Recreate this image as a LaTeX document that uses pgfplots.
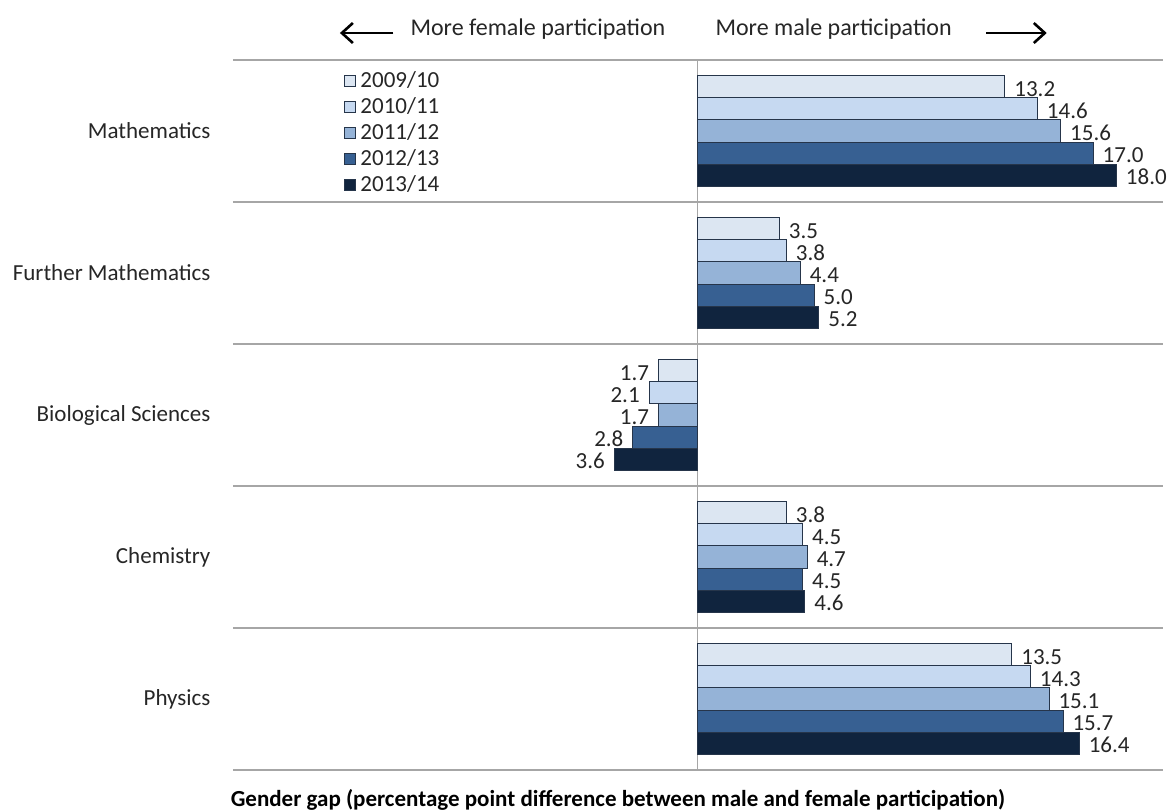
\documentclass[border=0pt]{standalone}
\usepackage{fontspec}
\setmainfont{Carlito}
\usepackage{pgfplots}
\pgfplotsset{compat=1.18}
\usepackage{pgfplotstable}
\usetikzlibrary{arrows.meta}

\definecolor{sA}{HTML}{DCE6F2}
\definecolor{sB}{HTML}{C6D9F1}
\definecolor{sC}{HTML}{95B3D7}
\definecolor{sD}{HTML}{376092}
\definecolor{sE}{HTML}{10243E}
\definecolor{edge}{HTML}{26354A}
\definecolor{gridc}{HTML}{A6A6A6}
\definecolor{txt}{HTML}{262626}

% gender gap by subject (rows) and year (columns)
\pgfplotstableread{
cat a b c d e
0 13.2 14.6 15.6 17.0 18.0
1 3.5 3.8 4.4 5.0 5.2
2 -1.7 -2.1 -1.7 -2.8 -3.6
3 3.8 4.5 4.7 4.5 4.6
4 13.5 14.3 15.1 15.7 16.4
}\gap

\begin{document}
\begin{tikzpicture}[font=\fontsize{11.5}{13}\selectfont, text=txt]
\useasboundingbox (-116.5pt,-21pt) rectangle (470pt,385pt);
\begin{axis}[
    at={(0,0)}, anchor=south west,
    scale only axis, width=465pt, height=355pt,
    xbar, bar width=0.155,
    xmin=-20, xmax=20, ymin=-0.5, ymax=4.5, y dir=reverse,
    axis line style={draw=none},
    tick style={draw=none},
    xtick=\empty,
    ytick={0,...,4},
    yticklabels={Mathematics, Further Mathematics, Biological Sciences, Chemistry, Physics},
    yticklabel style={xshift=-3.5pt, text=txt},
    extra y ticks={-0.5,0.5,1.5,2.5,3.5,4.5},
    extra y tick labels={},
    extra y tick style={grid=major, major grid style={gridc, line width=0.75pt}},
    extra x ticks={0},
    extra x tick labels={},
    extra x tick style={grid=major, major grid style={gridc, line width=0.5pt}},
    point meta=x,
    nodes near coords={\pgfkeys{/pgf/fpu=true}\pgfmathparse{abs(\pgfplotspointmeta)}%
        \pgfmathprintnumber[fixed,fixed zerofill,precision=1,assume math mode=true]{\pgfmathresult}},
    nodes near coords align={horizontal},
    every node near coord/.append style={inner sep=4.5pt, yshift=-1pt, text=txt},
    every axis plot/.append style={draw=edge, line width=0.5pt},
    legend style={at={(0.113,0.996)}, anchor=north west, draw=none, fill=none,
        row sep=-0.5pt, text=txt},
    legend cell align=left,
    legend image code/.code={\draw[#1] (0pt,-2.75pt) rectangle (5.5pt,2.75pt);},
    clip=false,
]
\addplot[fill=sA, bar shift=-0.31] table[x=a, y=cat] {\gap};
\addplot[fill=sB, bar shift=-0.155] table[x=b, y=cat] {\gap};
\addplot[fill=sC, bar shift=0] table[x=c, y=cat] {\gap};
\addplot[fill=sD, bar shift=0.155] table[x=d, y=cat] {\gap};
\addplot[fill=sE, bar shift=0.31] table[x=e, y=cat] {\gap};
\legend{2009/10, 2010/11, 2011/12, 2012/13, 2013/14}

\node[anchor=east, font=\fontsize{12}{14}\selectfont] at ([yshift=15.5pt]axis cs:-1.1,-0.5) {More female participation};
\node[anchor=west, font=\fontsize{12}{14}\selectfont] at ([yshift=15.5pt]axis cs:0.45,-0.5) {More male participation};
\draw[-{Straight Barb[length=5.5pt,width=10pt,line width=1.3pt]}, line width=1.3pt, black]
    ([yshift=13.5pt]axis cs:-13.1,-0.5) -- ([yshift=13.5pt]axis cs:-15.4,-0.5);
\draw[-{Straight Barb[length=5.5pt,width=10pt,line width=1.3pt]}, line width=1.3pt, black]
    ([yshift=13.5pt]axis cs:12.4,-0.5) -- ([yshift=13.5pt]axis cs:15.0,-0.5);
\node[font=\fontsize{11.5}{13}\selectfont\bfseries, text=black]
    at ([yshift=-15pt]axis cs:-3.44,4.5) {Gender gap (percentage point difference between male and female participation)};
\end{axis}
\end{tikzpicture}
\end{document}
